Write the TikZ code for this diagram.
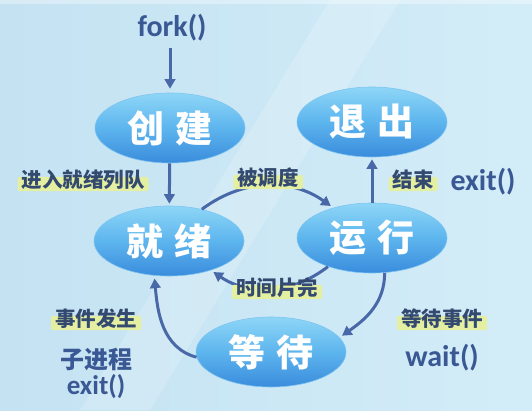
\documentclass[tikz,border=0pt]{standalone}
\usepackage{fontspec}
\newfontfamily\cjk{Noto Sans CJK SC}
\newfontfamily\lat{Carlito}
\usetikzlibrary{shapes.geometric,arrows.meta,shadows.blur}
\definecolor{bgA}{HTML}{C4E2F2}
\definecolor{bgB}{HTML}{D3EDF8}
\definecolor{elTop}{HTML}{8ED6F7}
\definecolor{elMid}{HTML}{5DB5EE}
\definecolor{elBot}{HTML}{3A8CDC}
\definecolor{arrC}{HTML}{4868A8}
\definecolor{txtC}{HTML}{3A5894}
\definecolor{labC}{HTML}{E4EFA2}
\definecolor{labT}{HTML}{33496F}
\tikzset{
  state/.style={ellipse, minimum width=150pt, minimum height=70pt, inner sep=0pt,
    top color=elTop, bottom color=elBot, middle color=elMid, draw=elMid!80!white, line width=0.6pt,
    text=white, font=\cjk\bfseries\fontsize{37}{37}\selectfont},
  lab/.style={fill=labC, rounded corners=2pt, inner xsep=4pt, inner ysep=2pt,
    text=labT, font=\cjk\bfseries\fontsize{20.5}{20.5}\selectfont, text height=0.9em, text depth=0.12em},
  call/.style={text=txtC, font=\lat\bfseries\fontsize{30}{30}\selectfont, inner sep=0pt},
  callcn/.style={text=txtC, font=\cjk\bfseries\fontsize{24}{24}\selectfont, inner sep=0pt},
  arr/.style={draw=arrC, line width=3pt, -{Triangle[width=10.5pt,length=9.5pt]}},
}
\begin{document}
\begin{tikzpicture}[x=1pt,y=1pt]
\useasboundingbox (0,0) rectangle (532,-410);
\shade[left color=bgA, right color=bgB] (0,0) rectangle (532,-410);
\fill[white, opacity=0.18] (330,0) -- (400,0) -- (150,-410) -- (80,-410) -- cycle;
\fill[white, opacity=0.35] (0,0) rectangle (532,-4);

% states
\node[state] (cj) at (170,-128) {创\hspace{0.28em}建};
\node[state] (tc) at (372,-122) {退\hspace{0.28em}出};
\node[state] (jx) at (169,-241) {就\hspace{0.28em}绪};
\node[state] (yx) at (372,-238) {运\hspace{0.28em}行};
\node[state] (dd) at (271,-352) {等\hspace{0.28em}待};

% calls
\node[call] (fork) at (172,-28) {fork()};
\node[call] (exitR) at (483,-182) {exit()};
\node[call] (wait) at (442,-358) {wait()};
\node[callcn] (zjc) at (96,-360) {子进程};
\node[call, font=\lat\bfseries\fontsize{27}{27}\selectfont] (exitB) at (96,-387) {exit()};

% arrows
\draw[arr, shorten <=6pt, shorten >=4pt] (fork.south -| cj.north) -- (cj.north);
\draw[arr, shorten >=2pt] (cj) -- (jx);
\draw[arr, shorten >=2pt] (yx) -- (tc);
\draw[arr, shorten >=3pt] (jx.44) to[bend left=36] (yx.142);
\draw[arr, shorten >=3pt] (yx.213) to[bend left=36] (jx.-35);
\draw[arr, shorten >=3pt] (yx.-70) to[out=-90,in=35] (dd.12);
\draw[arr, shorten >=3pt] (dd.184) to[out=165,in=-85] (jx.247);

% labels
\node[lab] (l1) at (83,-184) {进入就绪列队};
\node[lab] (l2) at (268,-182) {被调度};
\node[lab] (l3) at (277,-292) {时间片完};
\node[lab] (l4) at (413,-184) {结束};
\node[lab] (l5) at (96,-323) {事件发生};
\node[lab] (l6) at (442,-323) {等待事件};
\end{tikzpicture}
\end{document}
